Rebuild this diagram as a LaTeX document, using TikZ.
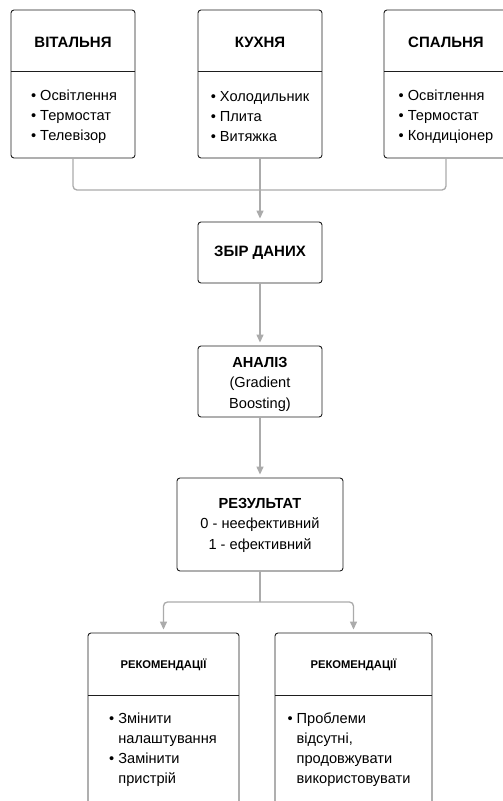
\documentclass[tikz,border=0pt]{standalone}
\usepackage{fontspec}
\setmainfont{Liberation Sans}
\usetikzlibrary{arrows.meta}
\definecolor{edge}{HTML}{1E1E1E}
\definecolor{wire}{HTML}{ABABAB}
\tikzset{
  box/.style={draw=edge, line width=0.9pt, rounded corners=3pt, fill=white, inner sep=0pt},
  head/.style={font=\fontsize{15}{20}\selectfont\bfseries, align=center},
  small head/.style={font=\fontsize{11.2}{14}\selectfont\bfseries},
  items/.style={font=\fontsize{14.6}{20}\selectfont, align=left, inner sep=0pt},
  body/.style={font=\fontsize{14.6}{20.5}\selectfont, align=center, inner sep=0pt},
  wire/.style={draw=wire, line width=1.3pt},
  arr/.style={wire, -{Triangle[width=7pt,length=8pt]}, shorten >=3pt}
}
\newcommand{\itm}{\textbullet\ }
\newcommand{\cont}{\hphantom{\textbullet\ }}
\begin{document}
\begin{tikzpicture}[x=1pt,y=-1pt]
        \clip (0,0) rectangle (503,801);
        \fill[white] (0,0) rectangle (503,801);
        % rooms
        \node[box, minimum width=124pt, minimum height=148pt] (liv) at (73,84) {};
        \node[box, minimum width=124pt, minimum height=148pt] (kit) at (260,84) {};
        \node[box, minimum width=124pt, minimum height=148pt] (bed) at (446,84) {};
        \foreach \x in {11,198,384} \draw[edge, line width=0.9pt] (\x,71) -- ++(124,0);
        \node[head] (livh) at (73,42) {ВІТАЛЬНЯ};
        \node[head] (kith) at (260,42) {КУХНЯ};
        \node[head] (bedh) at (446,42) {СПАЛЬНЯ};
        \node[items] (livl) at (74,117) {\itm Освітлення\\ \itm Термостат\\ \itm Телевізор};
        \node[items] (kitl) at (260,117) {\itm Холодильник\\ \itm Плита\\ \itm Витяжка};
        \node[items] (bedl) at (446,117) {\itm Освітлення\\ \itm Термостат\\ \itm Кондиціонер};
        % pipeline
        \node[box, minimum width=124pt, minimum height=61pt, head] (collect) at (260,252.5) {ЗБІР ДАНИХ};
        \node[box, minimum width=124pt, minimum height=71pt] (analysis) at (260,381.5) {};
        \node[body] (analysist) at (260,384) {\textbf{АНАЛІЗ}\\ (Gradient\\ Boosting)};
        \node[box, minimum width=166pt, minimum height=93pt] (result) at (260,524.5) {};
        \node[body] (resultt) at (260,525) {\textbf{РЕЗУЛЬТАТ}\\ 0 - неефективний\\ 1 - ефективний};
        % recommendations
        \node[box, minimum width=151pt, minimum height=207pt] (recl) at (163.5,736.5) {};
        \node[box, minimum width=157pt, minimum height=207pt] (recr) at (353.5,736.5) {};
        \draw[edge, line width=0.9pt] (88,695) -- (239,695);
        \draw[edge, line width=0.9pt] (275,695) -- (432,695);
        \node[small head] (reclh) at (163.5,665) {РЕКОМЕНДАЦІЇ};
        \node[small head] (recrh) at (353.5,665) {РЕКОМЕНДАЦІЇ};
        \node[items] (recll) at (163,750) {\itm Змінити\\ \cont налаштування\\ \itm Замінити\\ \cont пристрій};
        \node[items] (recrl) at (349,750) {\itm Проблеми\\ \cont відсутні,\\ \cont продовжувати\\ \cont використовувати};
        % connectors
        \coordinate (hub) at (260,190);
        \coordinate (split) at (260,602);
        \draw[wire, rounded corners=4pt] (liv.south) |- (hub);
        \draw[wire, rounded corners=4pt] (bed.south) |- (hub);
        \draw[arr] (kit.south) -- (collect.north);
        \draw[arr] (collect.south) -- (analysis.north);
        \draw[arr] (analysis.south) -- (result.north);
        \draw[wire] (result.south) -- (split);
        \draw[arr, rounded corners=4pt] (split) -| (recl.north);
        \draw[arr, rounded corners=4pt] (split) -| (recr.north);
\end{tikzpicture}
\end{document}
